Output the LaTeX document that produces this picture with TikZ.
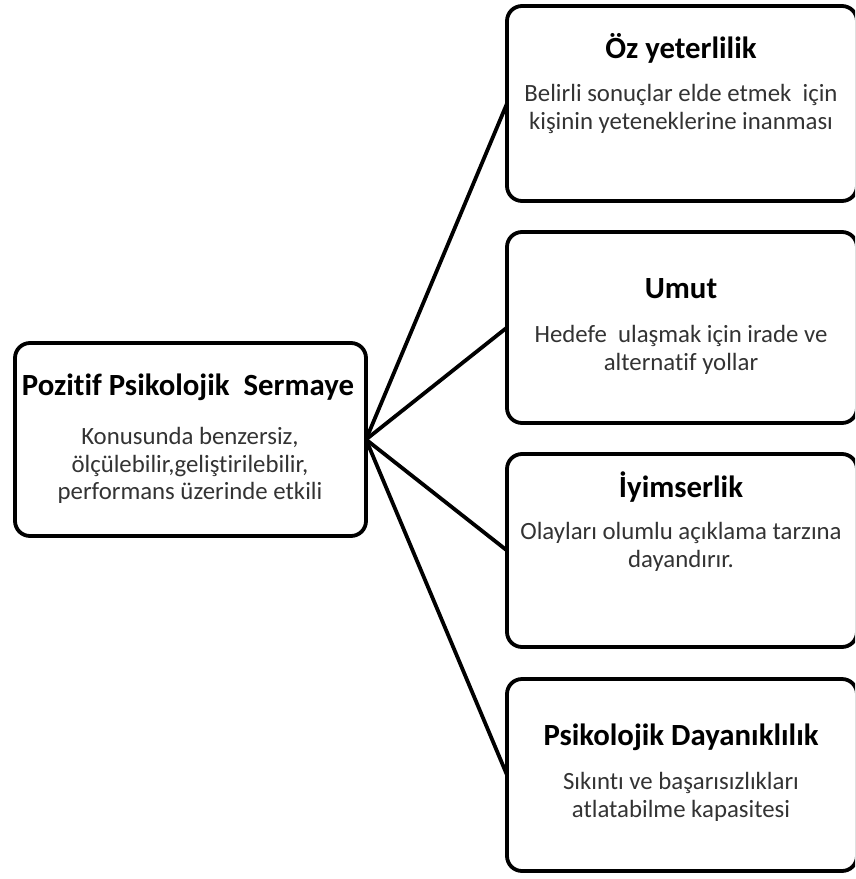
\documentclass[tikz,border=0pt]{standalone}
\usepackage{fontspec}
\setmainfont{Carlito}[Ligatures=NoCommon]
\begin{document}
\begin{tikzpicture}[x=1pt,y=-1pt,
  box/.style={draw=black, line width=3.8pt, rounded corners=15pt, fill=white,
    inner sep=0pt, outer sep=0pt, minimum width=350pt},
  ttl/.style={anchor=base, inner sep=0pt, font=\fontsize{30.8}{36}\selectfont\bfseries, text=black},
  bdy/.style={anchor=north, inner sep=0pt, align=center, font=\fontsize{24.8}{27.5}\selectfont, text=black!80},
  conn/.style={line width=3.8pt, line cap=round}]
\useasboundingbox (0,0) rectangle (855,879);
\clip (0,0) rectangle (855,879);
\fill[white] (0,0) rectangle (855,879);
% boxes
\node[box, minimum width=351pt, minimum height=193pt] (main) at (190.5,439.5) {};
\node[box, minimum height=195pt] (b1) at (682,103.5) {};
\node[box, minimum height=191pt] (b2) at (682,327.5) {};
\node[box, minimum height=193pt] (b3) at (682,550.5) {};
\node[box, minimum height=192pt] (b4) at (682,775) {};
% connectors
\draw[conn] (main.east) -- (b1.west);
\draw[conn] (main.east) -- (b2.west);
\draw[conn] (main.east) -- (b3.west);
\draw[conn] (main.east) -- (b4.west);
% texts
\node[ttl] (mt) at (188,395) {Pozitif Psikolojik\ \ Sermaye};
\node[bdy] (mb) at (190,427.5) {Konusunda benzersiz,\\ölçülebilir,geliştirilebilir,\\performans üzerinde etkili};
\node[ttl] (t1) at (681,58) {Öz yeterlilik};
\node[bdy] (d1) at (681,84.5) {Belirli sonuçlar elde etmek\ \ için\\kişinin yeteneklerine inanması};
\node[ttl] (t2) at (681,298) {Umut};
\node[bdy] (d2) at (681,325.5) {Hedefe\ \ ulaşmak için irade ve\\alternatif yollar};
\node[ttl] (t3) at (681,497) {İyimserlik};
\node[bdy] (d3) at (681,522.5) {Olayları olumlu açıklama tarzına\\dayandırır.};
\node[ttl] (t4) at (681,745) {Psikolojik Dayanıklılık};
\node[bdy] (d4) at (681,772.5) {Sıkıntı ve başarısızlıkları\\atlatabilme kapasitesi};
\end{tikzpicture}
\end{document}
